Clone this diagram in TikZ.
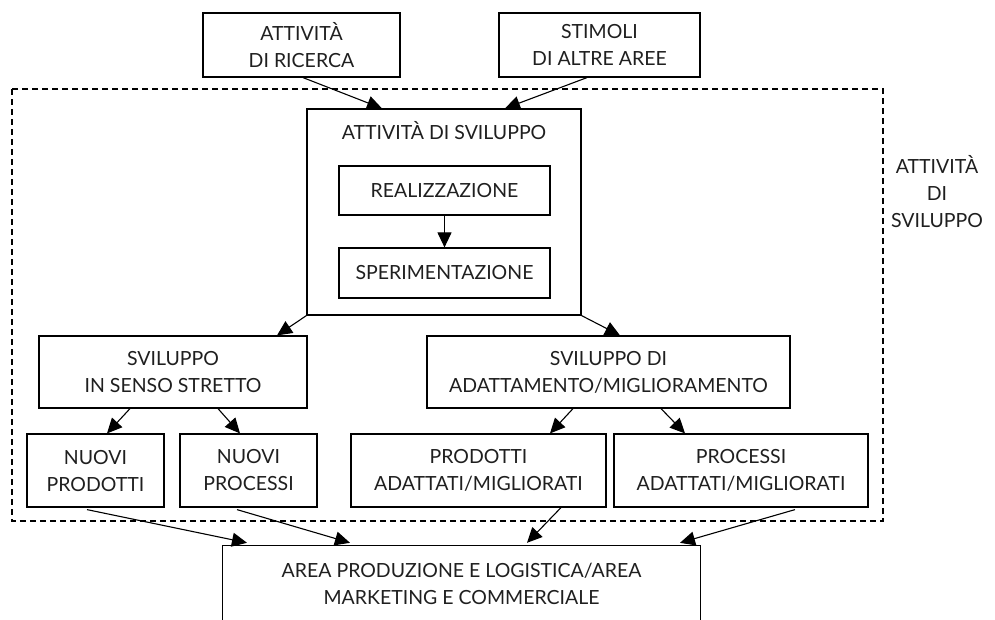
\documentclass[tikz,border=0pt]{standalone}
\usepackage{fontspec}
\setmainfont{Lato}
\usetikzlibrary{arrows.meta}
\begin{document}
\begin{tikzpicture}[x=1pt,y=-1pt,
  every node/.style={font=\fontsize{19.5}{27}\selectfont, text=black!88, align=center, inner sep=0pt},
  box/.style={draw, line width=1.2pt},
  conn/.style={line width=1.1pt, -{Triangle[length=15pt,width=14pt]}},
  frame/.style={line width=1.1pt, dash pattern=on 6pt off 4pt}]
\useasboundingbox (0,0) rectangle (995,619);

% inputs
\node[box, minimum width=197pt, minimum height=64pt] (ric) at (301.5,45) {ATTIVITÀ\\DI RICERCA};
\node[box, minimum width=201pt, minimum height=64pt] (sti) at (599.5,45) {STIMOLI\\DI ALTRE AREE};

% development area
\draw[frame] (12,89) rectangle (883,521);
\node (side) at (937,192) {ATTIVITÀ\\DI\\SVILUPPO};

\node[box, minimum width=274pt, minimum height=206pt] (dev) at (444,212) {};
\node (devt) at (444,131) {ATTIVITÀ DI SVILUPPO};
\node[box, minimum width=211pt, minimum height=49pt] (real) at (444.5,190.5) {REALIZZAZIONE};
\node[box, minimum width=211pt, minimum height=50pt] (sper) at (444.5,273) {SPERIMENTAZIONE};

\node[box, minimum width=268pt, minimum height=72pt] (sss) at (173,372) {SVILUPPO\\IN SENSO STRETTO};
\node[box, minimum width=363pt, minimum height=72pt] (sda) at (608.5,372) {SVILUPPO DI\\ADATTAMENTO/MIGLIORAMENTO};

\node[box, minimum width=137pt, minimum height=73pt] (np) at (95.5,470.5) {NUOVI\\PRODOTTI};
\node[box, minimum width=137pt, minimum height=73pt] (npc) at (248.5,470.5) {NUOVI\\PROCESSI};
\node[box, minimum width=255pt, minimum height=73pt] (pa) at (478.5,470.5) {PRODOTTI\\ADATTATI/MIGLIORATI};
\node[box, minimum width=254pt, minimum height=73pt] (pca) at (741,470.5) {PROCESSI\\ADATTATI/MIGLIORATI};

% output area (open at the bottom)
\node[minimum width=477pt, minimum height=80pt] (bot) at (461.5,586) {};
\node (bott) at (461.5,584) {AREA PRODUZIONE E LOGISTICA/AREA\\MARKETING E COMMERCIALE};
\draw[line width=1.2pt] (bot.south west) -- (bot.north west) -- (bot.north east) -- (bot.south east);

% connectors
\draw[conn] ([xshift=1.5pt]ric.south) -- ([xshift=-62pt]dev.north);
\draw[conn] ([xshift=-12.5pt]sti.south) -- ([xshift=61pt]dev.north);
\draw[conn] (real.south) -- (sper.north);
\draw[conn] (dev.south west) -- ([xshift=104pt]sss.north);
\draw[conn] (dev.south east) -- ([xshift=11.5pt]sda.north);
\draw[conn] ([xshift=-43pt]sss.south) -- ([xshift=11.5pt]np.north);
\draw[conn] ([xshift=45pt]sss.south) -- ([xshift=-8.5pt]npc.north);
\draw[conn] ([xshift=-35.5pt]sda.south) -- ([xshift=71.5pt]pa.north);
\draw[conn] ([xshift=52.5pt]sda.south) -- ([xshift=-56pt]pca.north);
\draw[conn] ([xshift=-8.5pt,yshift=-2pt]np.south) -- ([xshift=-214.5pt,yshift=3pt]bot.north);
\draw[conn] ([xshift=-11.5pt,yshift=-2pt]npc.south) -- ([xshift=-111.5pt,yshift=3pt]bot.north);
\draw[conn] ([xshift=82.5pt]pa.south) -- ([xshift=65.5pt,yshift=3pt]bot.north);
\draw[conn] ([xshift=54pt,yshift=-2pt]pca.south) -- ([xshift=218.5pt,yshift=3pt]bot.north);
\end{tikzpicture}
\end{document}
